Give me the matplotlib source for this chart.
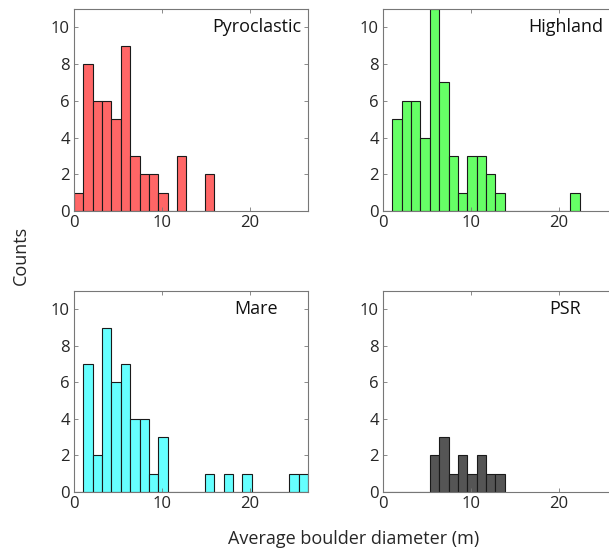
import numpy as np
import matplotlib
matplotlib.use("Agg")
import matplotlib.pyplot as plt

plt.rcParams['font.family'] = ['Open Sans', 'DejaVu Sans']

# bin width (m) and counts per bin, first bin starts at 0
ancho = 1.065
pyroclastic = [1, 8, 6, 6, 5, 9, 3, 2, 2, 1, 0, 3, 0, 0, 2]
highland = [0, 5, 6, 6, 4, 11, 7, 3, 1, 3, 3, 2, 1, 0, 0, 0, 0, 0, 0, 0, 1]
mare = [0, 7, 2, 9, 6, 7, 4, 4, 1, 3, 0, 0, 0, 0, 1, 0, 1, 0, 1, 0, 0, 0, 0, 1, 1]
psr = [0, 0, 0, 0, 0, 2, 3, 1, 2, 1, 2, 1, 1]

nombres = ["Pyroclastic", "Highland", "Mare", "PSR"]
colores = ["#ff6666", "#66ff66", "#66ffff", "#555555"]
datos = [pyroclastic, highland, mare, psr]

W, H = 609, 551
fig = plt.figure(figsize=(W / 100, H / 100), dpi=100)

# axes boxes in pixels: left, top, width, height
cajas = [(74, 9, 234, 202), (383, 9, 234, 202), (74, 291, 234, 201), (383, 291, 234, 201)]

for caja, nombre, color, cuentas in zip(cajas, nombres, colores, datos):
    x0, y0, w, h = caja
    ax = fig.add_axes([x0 / W, 1 - (y0 + h) / H, w / W, h / H])
    bordes = np.arange(len(cuentas) + 1) * ancho
    ax.hist(bordes[:-1], bins=bordes, weights=cuentas, color=color,
            edgecolor="#1a1a1a", linewidth=0.8)
    ax.set_xlim(0, 25 * ancho)
    ax.set_ylim(0, 11)
    ax.set_xticks([0, 10, 20])
    ax.set_yticks([0, 2, 4, 6, 8, 10])
    ax.tick_params(direction="in", length=3, width=0.6, top=True, right=True,
                   labelsize=12, colors="#777777", labelcolor="#262626", pad=3)
    for s in ax.spines.values():
        s.set_color("#777777")
        s.set_linewidth(0.8)
    ax.text(0.78, 0.91, nombre, transform=ax.transAxes, ha="center", va="center",
            fontsize=13, color="#111111")

fig.text(21 / W, 1 - 255 / H, "Counts", rotation=90, ha="center", va="center",
         fontsize=13, color="#262626")
fig.text(354 / W, 1 - 539 / H, "Average boulder diameter (m)", ha="center", va="center",
         fontsize=13, color="#262626")

fig.savefig("out.png", dpi=100)
